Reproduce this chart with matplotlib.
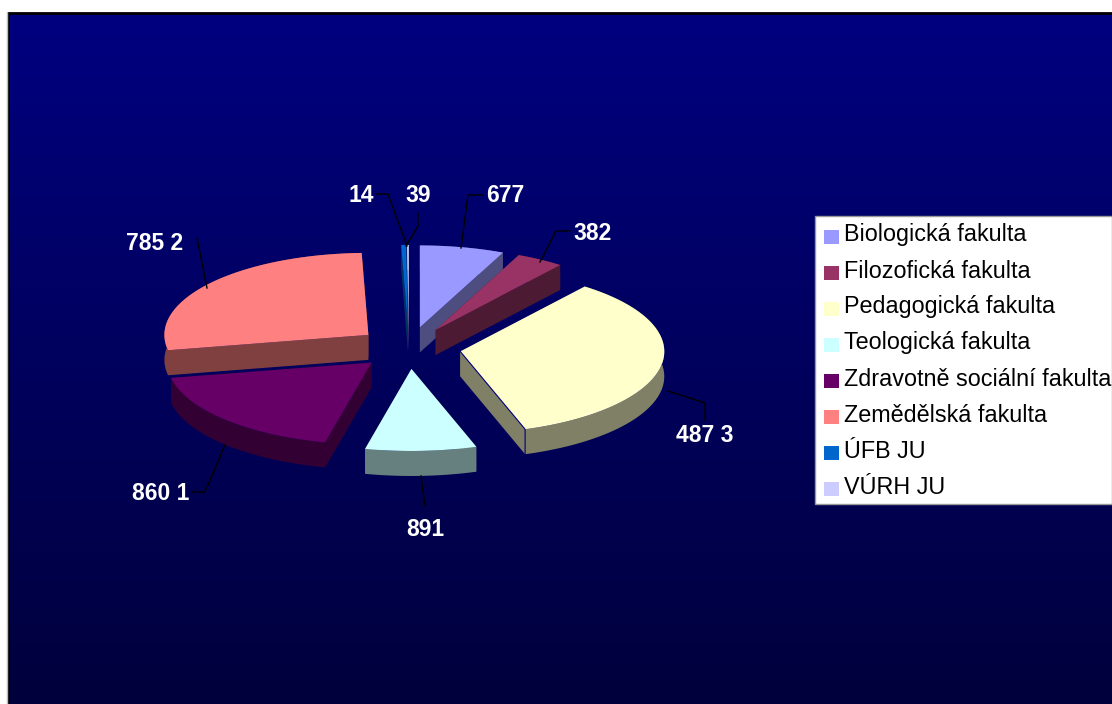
import matplotlib
matplotlib.use('Agg')
import matplotlib.pyplot as plt
from matplotlib.patches import Polygon, Rectangle
import numpy as np

# Faculties, same order as the legend
faculties = ['Biologická fakulta', 'Filozofická fakulta', 'Pedagogická fakulta', 'Teologická fakulta',
             'Zdravotně sociální fakulta', 'Zemědělská fakulta', 'ÚFB JU', 'VÚRH JU']
values = [677, 382, 3487, 891, 1860, 2785, 39, 14]
value_labels = ['677', '382', '487 3', '891', '860 1', '785 2', '39', '14']
top_colors = ['#9999FF', '#993366', '#FFFFCC', '#CCFFFF', '#660066', '#FF8080', '#0066CC', '#CCCCFF']
side_colors = ['#4D4D80', '#4D1A33', '#808066', '#668080', '#330033', '#804040', '#003366', '#666680']

# Pie geometry in pixels
cx, cy = 409, 348
rx, ry = 204, 82
explode_x, explode_y = 52, 21
depth = 25
draw_order = [0, 7, 6, 1, 5, 2, 4, 3]  # back to front

# Label text centre and leader line for each slice
label_pos = [(505, 196), (593, 233), (705, 435), (425, 529), (161, 493), (155, 244), (418, 196), (361, 196)]
leaders = [
    [(483, 195), (468, 195), (461, 248)],
    [(570, 231), (556, 231), (540, 262)],
    [(668, 391), (705, 403), (705, 420)],
    [(421, 476), (425, 506)],
    [(192, 492), (205, 492), (225, 445)],
    [(197, 238), (207, 288)],
    [(418, 213), (418, 226), (406, 246)],
    [(376, 194), (388, 194), (407, 246)],
]

fig = plt.figure(figsize=(11.12, 7.04), dpi=100, facecolor='white')
ax = fig.add_axes([0, 0, 1, 1])
ax.set_xlim(0, 1112)
ax.set_ylim(704, 0)
ax.axis('off')

# Background gradient with black frame
gradient = np.zeros((256, 1, 3))
gradient[:, 0, 2] = np.linspace(128, 60, 256) / 255
ax.imshow(gradient, extent=(8, 1112, 704, 13), aspect='auto', zorder=0)
ax.set_xlim(0, 1112)
ax.set_ylim(704, 0)
ax.plot([8, 8, 1112], [704, 13, 13], color='black', lw=2, zorder=1)
ax.plot([6.5, 6.5], [13, 704], color='#BBBBBB', lw=1, zorder=1)

# Slices, angles run clockwise from the top
edges = np.cumsum([0] + values) / sum(values) * 2 * np.pi
zorder = 2
for i in draw_order:
    start, end = edges[i], edges[i + 1]
    mid = (start + end) / 2
    apex_x = cx + explode_x * np.sin(mid)
    apex_y = cy - explode_y * np.cos(mid)
    t = np.linspace(start, end, 80)
    arc = np.column_stack([apex_x + rx * np.sin(t), apex_y - ry * np.cos(t)])
    apex = np.array([apex_x, apex_y])
    drop = np.array([0, depth])
    # side faces: the two cut faces and the rim, all in one flat colour
    faces = [
        [apex, arc[0], arc[0] + drop, apex + drop],
        [apex, arc[-1], arc[-1] + drop, apex + drop],
        np.vstack([arc, (arc + drop)[::-1]]),
    ]
    for face in faces:
        ax.add_patch(Polygon(face, closed=True, fc=side_colors[i], ec='none', zorder=zorder))
    ax.add_patch(Polygon(np.vstack([apex, arc]), closed=True, fc=top_colors[i], ec='none', zorder=zorder + 0.5))
    # the big slice has a thin navy edge on its front corner
    if i == 2:
        ax.plot([apex_x, arc[-1][0], arc[-1][0]], [apex_y, arc[-1][1], arc[-1][1] + depth],
                color='#000080', lw=0.8, zorder=zorder + 0.6)
    zorder += 1

# Leader lines and value labels
for pts, (lx, ly), text in zip(leaders, label_pos, value_labels):
    xs, ys = zip(*pts)
    ax.plot(xs, ys, color='black', lw=1, zorder=30)
    ax.text(lx, ly, text, color='white', fontsize=16.5, fontweight='bold', family='Liberation Sans',
            ha='center', va='center', zorder=31)

# Legend box
ax.add_patch(Rectangle((815, 216), 297, 288, fc='white', ec='#999999', lw=1, zorder=40))
for i, name in enumerate(faculties):
    y = 237 + 36 * i
    ax.add_patch(Rectangle((824, y - 7), 15, 14, fc=top_colors[i], ec='none', zorder=41))
    ax.text(844, y - 2, name, color='black', fontsize=16.8, family='Liberation Sans',
            ha='left', va='center', zorder=41)

fig.savefig('out.png', dpi=100)
